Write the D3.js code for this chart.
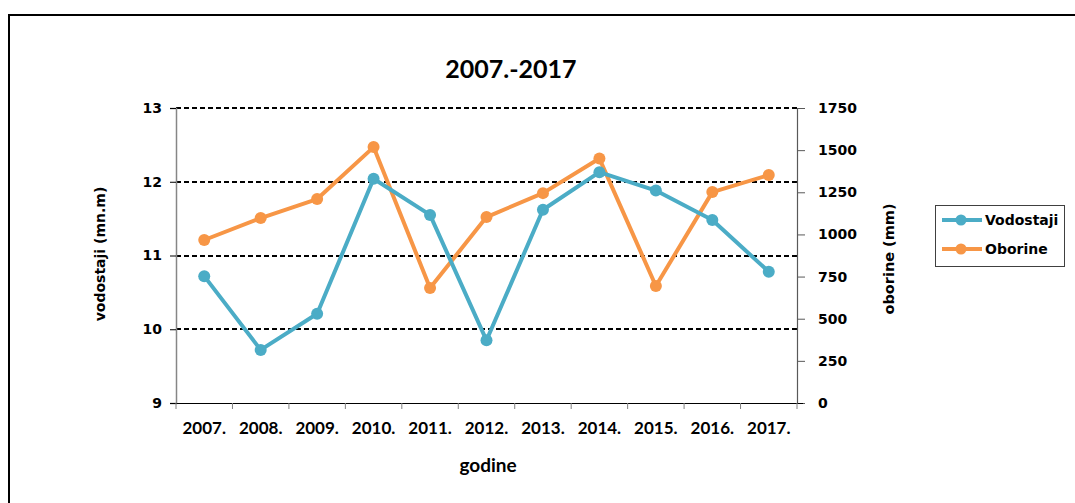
<!DOCTYPE html>
<html>
<head>
    <meta charset="UTF-8"/>
    <style>
        body {
            margin: 0;
            background: #fff;
            font-family: "DejaVu Sans", Verdana, sans-serif;
        }
    </style>
</head>
<body>
<script src="https://d3js.org/d3.v7.min.js"></script>
<div id="my_dataviz"></div>
<script>

    // data
    var years = ["2007.", "2008.", "2009.", "2010.", "2011.", "2012.", "2013.", "2014.", "2015.", "2016.", "2017."];
    var vodostaji = [10.72, 9.72, 10.21, 12.04, 11.55, 9.85, 11.62, 12.13, 11.88, 11.48, 10.78];
    var oborine = [967, 1097, 1210, 1518, 682, 1103, 1245, 1450, 694, 1251, 1352];
    var leftTicks = [9, 10, 11, 12, 13];
    var rightTicks = [0, 250, 500, 750, 1000, 1250, 1500, 1750];
    var gridTicks = [10, 11, 12, 13];

    var W = 1075, H = 503;
    var plot = {left: 176, right: 797, top: 108, bottom: 403};
    var blue = "#4BACC6", orange = "#F79646";
    var calibriLike = "Lato, 'Open Sans', sans-serif";
    var verdanaLike = "'DejaVu Sans', Verdana, sans-serif";

    var svg = d3.select("#my_dataviz")
        .append("svg")
        .attr("width", W)
        .attr("height", H);

    // outer frame
    svg.append("rect")
        .attr("x", 9).attr("y", 15)
        .attr("width", W).attr("height", H)
        .attr("fill", "none")
        .attr("stroke", "#000")
        .attr("stroke-width", 2);

    var x = d3.scaleBand()
        .domain(years)
        .range([plot.left, plot.right]);

    var yL = d3.scaleLinear()
        .domain([9, 13])
        .range([plot.bottom, plot.top]);

    var yR = d3.scaleLinear()
        .domain([0, 1750])
        .range([plot.bottom, plot.top]);

    // title
    svg.append("text")
        .attr("x", 511)
        .attr("y", 78)
        .attr("text-anchor", "middle")
        .attr("font-family", calibriLike)
        .attr("font-weight", "bold")
        .attr("font-size", "25px")
        .text("2007.-2017");

    // dashed gridlines
    svg.selectAll("line.grid")
        .data(gridTicks)
        .enter()
        .append("line")
        .attr("class", "grid")
        .attr("x1", plot.left)
        .attr("x2", plot.right)
        .attr("y1", function(d){ return Math.round(yL(d)) })
        .attr("y2", function(d){ return Math.round(yL(d)) })
        .attr("stroke", "#000")
        .attr("stroke-width", 2)
        .attr("stroke-dasharray", "5,3");

    // left axis
    var gL = svg.append("g")
        .attr("transform", "translate(" + plot.left + ",0)")
        .call(d3.axisLeft(yL).tickValues(leftTicks).tickSize(6).tickPadding(8).tickFormat(d3.format("d")));
    gL.select(".domain").attr("stroke", "#868686").attr("stroke-width", 1.5);
    gL.selectAll(".tick line").attr("stroke", "#000");
    gL.selectAll(".tick text")
        .attr("font-family", verdanaLike)
        .attr("font-weight", "bold")
        .attr("font-size", "14px")
        .attr("fill", "#000");

    // right axis
    var gR = svg.append("g")
        .attr("transform", "translate(" + plot.right + ",0)")
        .call(d3.axisRight(yR).tickValues(rightTicks).tickSize(8).tickPadding(13).tickFormat(d3.format("d")));
    gR.select(".domain").attr("stroke", "#595959").attr("stroke-width", 1.2);
    gR.selectAll(".tick line").attr("stroke", "#595959");
    gR.selectAll(".tick text")
        .attr("font-family", verdanaLike)
        .attr("font-weight", "bold")
        .attr("font-size", "14px")
        .attr("fill", "#000");

    // bottom axis (ticks between categories)
    var gB = svg.append("g")
        .attr("transform", "translate(0," + plot.bottom + ")");
    gB.append("line")
        .attr("x1", plot.left - 6).attr("x2", plot.right + 6)
        .attr("y1", 0.5).attr("y2", 0.5)
        .attr("stroke", "#000")
        .attr("stroke-width", 1.2);
    gB.selectAll("line.xt")
        .data(years.concat(["end"]))
        .enter()
        .append("line")
        .attr("class", "xt")
        .attr("x1", function(d, i){ return i < years.length ? x(d) : plot.right })
        .attr("x2", function(d, i){ return i < years.length ? x(d) : plot.right })
        .attr("y1", 0).attr("y2", 6)
        .attr("stroke", "#808080");
    gB.selectAll("text")
        .data(years)
        .enter()
        .append("text")
        .attr("x", function(d){ return x(d) + x.bandwidth() / 2 })
        .attr("y", 31)
        .attr("text-anchor", "middle")
        .attr("font-family", calibriLike)
        .attr("font-weight", "bold")
        .attr("font-size", "17px")
        .text(function(d){ return d });

    // axis titles
    svg.append("text")
        .attr("transform", "translate(105,254) rotate(-90)")
        .attr("text-anchor", "middle")
        .attr("font-family", verdanaLike)
        .attr("font-weight", "bold")
        .attr("font-size", "14px")
        .text("vodostaji (mn.m)");

    svg.append("text")
        .attr("transform", "translate(894,259) rotate(-90)")
        .attr("text-anchor", "middle")
        .attr("font-family", verdanaLike)
        .attr("font-weight", "bold")
        .attr("font-size", "14.5px")
        .text("oborine (mm)");

    svg.append("text")
        .attr("x", 488)
        .attr("y", 472)
        .attr("text-anchor", "middle")
        .attr("font-family", calibriLike)
        .attr("font-weight", "bold")
        .attr("font-size", "19px")
        .text("godine");

    // series
    var cx = function(d, i){ return x(years[i]) + x.bandwidth() / 2 };

    var series = [
        {name: "Oborine", values: oborine, y: yR, color: orange},
        {name: "Vodostaji", values: vodostaji, y: yL, color: blue}
    ];

    series.forEach(function(s){
        svg.append("path")
            .datum(s.values)
            .attr("fill", "none")
            .attr("stroke", s.color)
            .attr("stroke-width", 4)
            .attr("stroke-linejoin", "round")
            .attr("d", d3.line().x(cx).y(function(d){ return s.y(d) }));

        svg.selectAll("circle." + s.name)
            .data(s.values)
            .enter()
            .append("circle")
            .attr("class", s.name)
            .attr("cx", cx)
            .attr("cy", function(d){ return s.y(d) })
            .attr("r", 6)
            .attr("fill", s.color);
    });

    // legend
    var legend = svg.append("g");
    legend.append("rect")
        .attr("x", 935.5).attr("y", 205.5)
        .attr("width", 129).attr("height", 61)
        .attr("fill", "#fff")
        .attr("stroke", "#404040")
        .attr("stroke-width", 1);

    var legendItems = [{name: "Vodostaji", color: blue}, {name: "Oborine", color: orange}];
    legendItems.forEach(function(d, i){
        var ly = 220 + i * 29;
        legend.append("line")
            .attr("x1", 942).attr("x2", 982)
            .attr("y1", ly).attr("y2", ly)
            .attr("stroke", d.color)
            .attr("stroke-width", 4);
        legend.append("circle")
            .attr("cx", 961).attr("cy", ly)
            .attr("r", 5.5)
            .attr("fill", d.color);
        legend.append("text")
            .attr("x", 985)
            .attr("y", ly + 5)
            .attr("font-family", verdanaLike)
            .attr("font-weight", "bold")
            .attr("font-size", "14px")
            .text(d.name);
    });

</script>
</body>
</html>
